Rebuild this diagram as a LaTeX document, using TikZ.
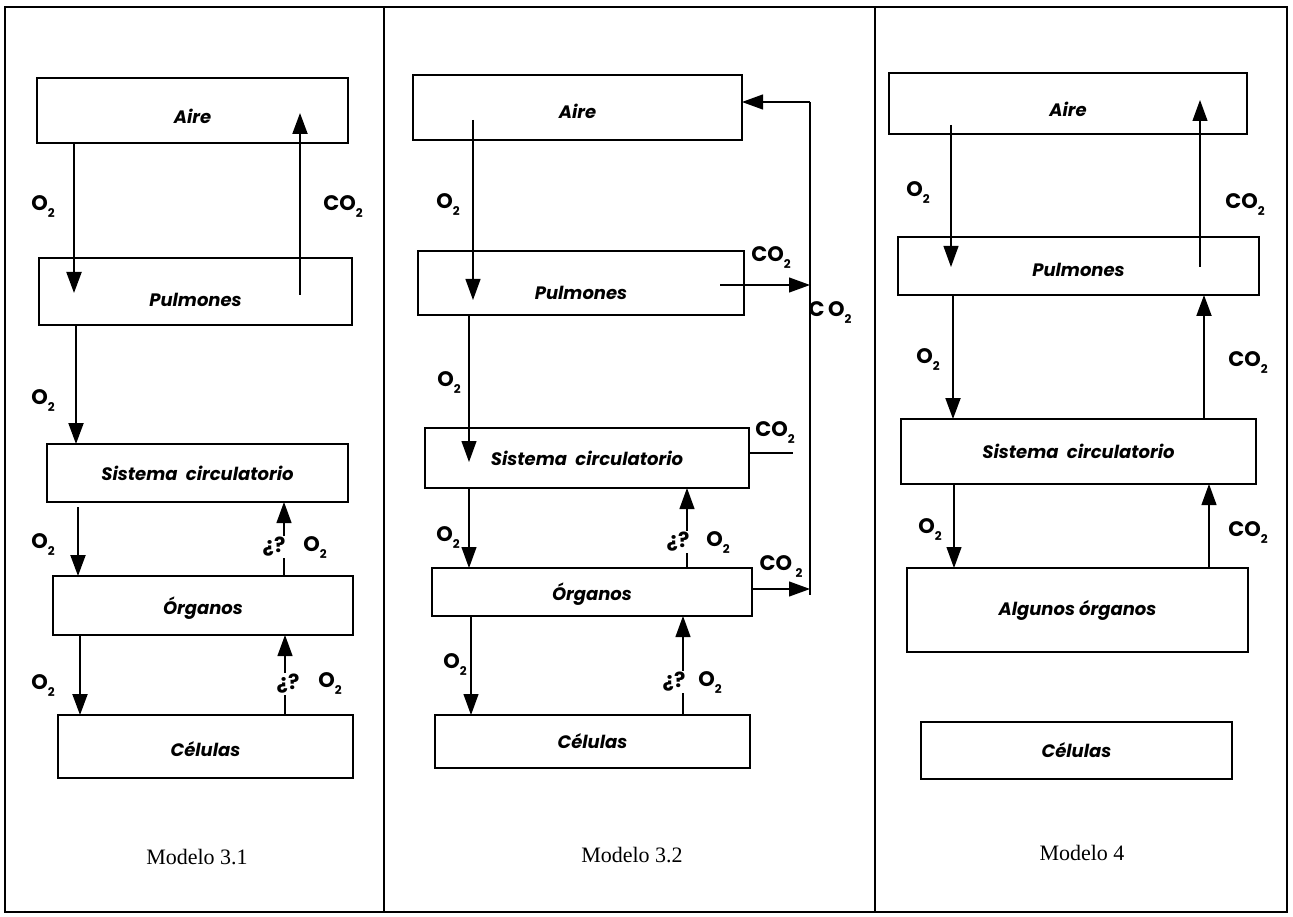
\documentclass[tikz,border=0pt]{standalone}
\usepackage{fontspec}
\setmainfont{Liberation Serif}
\newfontfamily\geo{Poppins}
\usetikzlibrary{arrows.meta,calc}
\newcommand\gsub[1]{\raisebox{-0.6ex}{\fontsize{12}{12}\selectfont #1}}
\newcommand\Ox{O\gsub{2}}
\newcommand\COx{CO\gsub{2}}
\tikzset{
 box/.style={draw, line width=1.6pt, inner sep=0pt, outer sep=0pt, font=\geo\fontsize{18}{20}\selectfont\bfseries\itshape},
 low/.style={text height=#1, text depth=0pt},
 thk/.style={line width=2pt, -{Triangle[length=21pt,width=15pt]}},
 thn/.style={line width=1.1pt, -{Triangle[length=21pt,width=15pt]}},
 plain/.style={line width=1.1pt},
 lbl/.style={font=\geo\fontsize{21}{22}\selectfont\bfseries, inner sep=1pt},
 model/.style={font=\fontsize{22}{24}\selectfont},
 frame/.style={line width=1.6pt},
}
\begin{document}
\begin{tikzpicture}[x=1pt,y=-1pt]
\useasboundingbox (0,0) rectangle (1293,917);
% frame
\draw[frame] (5,7) rectangle (1287,912);
\draw[frame] (384,7) -- (384,912);
\draw[frame] (875,7) -- (875,912);

% ---------------- Panel 1
\node[box, low=26pt, minimum width=311pt, minimum height=65pt] (a1) at (192.5,110.5) {Aire};
\node[box, low=30pt, minimum width=313pt, minimum height=67pt] (p1) at (195.5,291.5) {Pulmones};
\node[box, minimum width=301pt, minimum height=58pt] (s1) at (197.5,473) {Sistema\ \ circulatorio};
\node[box, low=18pt, minimum width=300pt, minimum height=59pt] (o1) at (203,605.5) {Órganos};
\node[box, low=20pt, minimum width=295pt, minimum height=63pt] (c1) at (205.5,746.5) {Células};

\coordinate (x1a) at (74,0);
\coordinate (x1b) at (300,0);
\coordinate (x1c) at (76,0);
\coordinate (x1d) at (78,0);
\coordinate (x1e) at (80,0);
\coordinate (x1f) at (284,0);
\coordinate (x1g) at (285,0);

\draw[thk] (a1.south -| x1a) -- ($(p1.north -| x1a)+(0,35)$);
\draw[thk] ($(p1.north -| x1b)+(0,37)$) -- ($(a1.north -| x1b)+(0,35)$);
\draw[thk] (p1.south -| x1c) -- (s1.north -| x1c);
\draw[thk] ($(s1.south -| x1d)+(0,5)$) -- (o1.north -| x1d);
\draw[thk] (o1.south -| x1e) -- (c1.north -| x1e);

\node[lbl] (q1) at (274,547) {¿?};
\node[lbl] (q1o) at (315,548) {\Ox};
\draw[plain] (o1.north -| x1f) -- (q1.south -| x1f);
\draw[thn] (q1.north -| x1f) -- (s1.south -| x1f);

\node[lbl] (q1b) at (288,684) {¿?};
\node[lbl] (q1bo) at (330,684) {\Ox};
\draw[plain] (c1.north -| x1g) -- (q1b.south -| x1g);
\draw[thn] (q1b.north -| x1g) -- (o1.south -| x1g);

\node[lbl] (l11) at (43,207) {\Ox};
\node[lbl] (l12) at (343,207) {\COx};
\node[lbl] (l13) at (43,401) {\Ox};
\node[lbl] (l14) at (43,545) {\Ox};
\node[lbl] (l15) at (43,686) {\Ox};
\node[model] (m1) at (197,857) {Modelo 3.1};

% ---------------- Panel 2
\node[box, low=22pt, minimum width=329pt, minimum height=65pt] (a2) at (577.5,107.5) {Aire};
\node[box, low=33pt, minimum width=326pt, minimum height=64pt] (p2) at (581,283) {Pulmones};
\node[box, minimum width=324pt, minimum height=60pt] (s2) at (587,458) {Sistema\ \ circulatorio};
\node[box, low=17pt, minimum width=320pt, minimum height=48pt] (o2) at (592,592) {Órganos};
\node[box, minimum width=315pt, minimum height=53pt] (c2) at (592.5,741.5) {Células};

\coordinate (x2a) at (473,0);
\coordinate (x2b) at (469,0);
\coordinate (x2c) at (687,0);
\coordinate (x2d) at (471,0);
\coordinate (x2e) at (683,0);
\coordinate (lt) at (810,102);
\coordinate (lb) at (810,595);
\coordinate (sc) at (793,453);

\draw[thn] ($(a2.south -| x2a)+(0,-20)$) -- ($(p2.north -| x2a)+(0,49)$);
\draw[plain] (lt) -- (lb);
\draw[thn] (lt) -- (a2.east |- lt);
\draw[thn] ($(p2.east)+(-24,2)$) -- ($(p2.east -| lt)+(0,2)$);
\draw[plain] (s2.east |- sc) -- (sc);
\draw[thn] (p2.south -| x2b) -- ($(s2.north -| x2b)+(0,34)$);
\draw[thn] (s2.south -| x2b) -- (o2.north -| x2b);
\draw[thn] ($(o2.east)+(0,-3)$) -- ($(o2.east -| lb)+(0,-3)$);
\draw[thn] (o2.south -| x2d) -- (c2.north -| x2d);

\node[lbl] (q2) at (678,542) {¿?};
\node[lbl] (q2o) at (718,543) {\Ox};
\draw[plain] (o2.north -| x2c) -- (q2.south -| x2c);
\draw[thn] (q2.north -| x2c) -- (s2.south -| x2c);

\node[lbl] (q2b) at (674,682) {¿?};
\node[lbl] (q2bo) at (710,683) {\Ox};
\draw[plain] (c2.north -| x2e) -- (q2b.south -| x2e);
\draw[thn] (q2b.north -| x2e) -- (o2.south -| x2e);

\node[lbl] (l21) at (448,205) {\Ox};
\node[lbl] (l22) at (771,258) {\COx};
\node[lbl] (l23) at (830,313) {C\,O\gsub{2}};
\node[lbl] (l24) at (775,433) {\COx};
\node[lbl] (l25) at (449,383) {\Ox};
\node[lbl] (l26) at (448,538) {\Ox};
\node[lbl] (l27) at (781,567) {CO\,\gsub{2}};
\node[lbl] (l28) at (455,665) {\Ox};
\node[model] (m2) at (632,855) {Modelo 3.2};

% ---------------- Panel 3
\node[box, low=26pt, minimum width=358pt, minimum height=61pt] (a3) at (1068,103.5) {Aire};
\node[box, low=21pt, minimum width=361pt, minimum height=58pt] (p3) at (1078.5,266) {Pulmones};
\node[box, minimum width=355pt, minimum height=65pt] (s3) at (1078.5,451.5) {Sistema\ \ circulatorio};
\node[box, minimum width=341pt, minimum height=84pt] (g3) at (1077.5,610) {Algunos órganos};
\node[box, minimum width=311pt, minimum height=57pt] (c3) at (1076.5,750.5) {Células};

\coordinate (x3a) at (951,0);
\coordinate (x3b) at (1200,0);
\coordinate (x3c) at (953,0);
\coordinate (x3d) at (1204,0);
\coordinate (x3e) at (954,0);
\coordinate (x3f) at (1209,0);

\draw[thn] ($(a3.south -| x3a)+(0,-9)$) -- ($(p3.north -| x3a)+(0,30)$);
\draw[thn] ($(p3.north -| x3b)+(0,30)$) -- ($(a3.north -| x3b)+(0,27)$);
\draw[thk] (p3.south -| x3c) -- (s3.north -| x3c);
\draw[thk] (s3.north -| x3d) -- (p3.south -| x3d);
\draw[thn] (s3.south -| x3e) -- (g3.north -| x3e);
\draw[thn] (g3.north -| x3f) -- (s3.south -| x3f);

\node[lbl] (l31) at (918,193) {\Ox};
\node[lbl] (l32) at (1245,205) {\COx};
\node[lbl] (l33) at (928,360) {\Ox};
\node[lbl] (l34) at (1248,363) {\COx};
\node[lbl] (l35) at (930,530) {\Ox};
\node[lbl] (l36) at (1248,533) {\COx};
\node[model] (m3) at (1082,853) {Modelo 4};
\end{tikzpicture}
\end{document}
